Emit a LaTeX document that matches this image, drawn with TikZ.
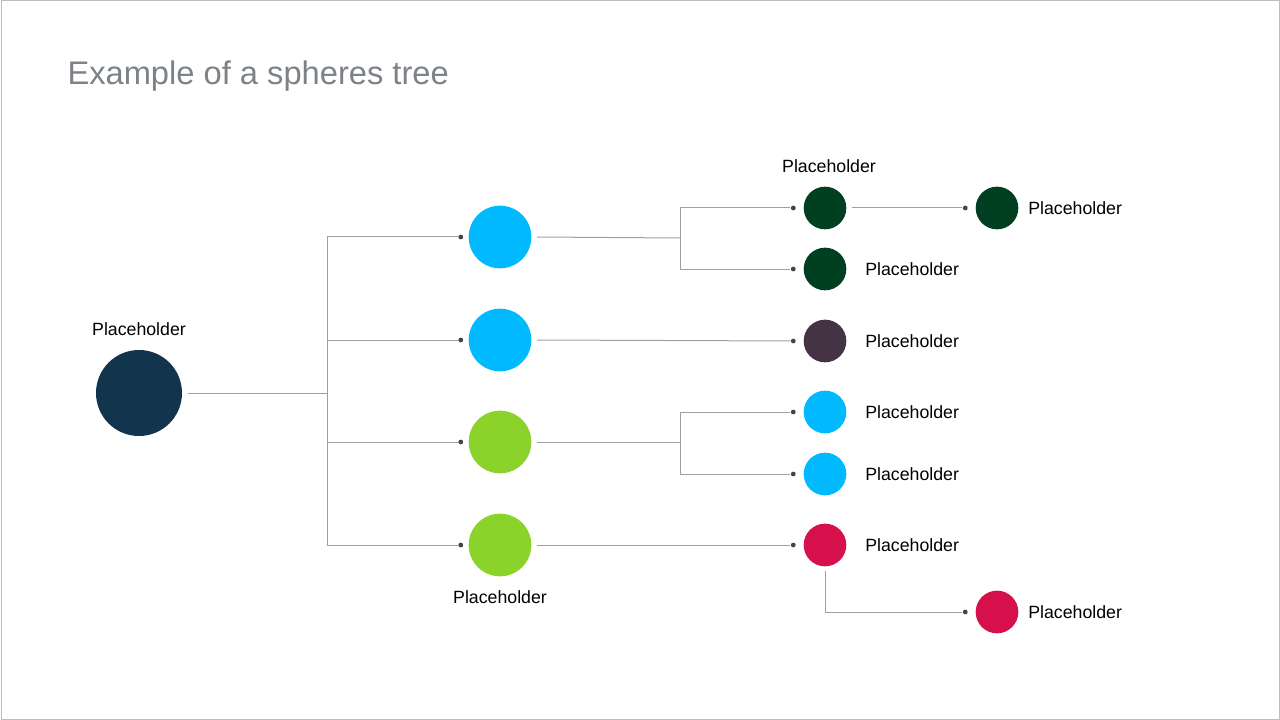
\documentclass[tikz,border=0pt]{standalone}
\usepackage{fontspec}
\setmainfont{Liberation Sans}
\usetikzlibrary{positioning}
\definecolor{navy}{RGB}{18,52,77}
\definecolor{sky}{RGB}{0,185,255}
\definecolor{lime}{RGB}{139,210,42}
\definecolor{forest}{RGB}{0,64,32}
\definecolor{plum}{RGB}{67,51,68}
\definecolor{crimson}{RGB}{213,16,74}
\definecolor{wire}{RGB}{160,160,160}
\definecolor{dotc}{RGB}{80,60,80}
\tikzset{every picture/.style={line width=0.75pt}}
\tikzset{
  ball/.style={circle,inner sep=0pt,minimum size=#1},
  link/.style={draw=wire},
  tip/.style={circle,fill=dotc,inner sep=0pt,minimum size=3.6pt},
  lbl/.style={font=\fontsize{13.3}{15}\selectfont,inner sep=0.75pt}
}
\begin{document}
\begin{tikzpicture}[x=0.75pt,y=0.75pt,yscale=-1,xscale=1]
\useasboundingbox (0,0) rectangle (1280,720);
\draw [draw={rgb,255:red,190;green,190;blue,190}] (1,1) rectangle (1279,719);

% title
\node [anchor=west,inner sep=0pt,text={rgb,255:red,125;green,130;blue,135},font=\fontsize{24.5}{28}\selectfont] (title) at (67,76) {Example of a spheres tree};

% spheres
\node [ball=64.5pt, fill=navy] (root) at (139,393) {};
\node [ball=47pt, fill=sky] (a) at (500,237) {};
\node [ball=47pt, fill=sky] (b) at (500,340) {};
\node [ball=47pt, fill=lime] (c) at (500,442) {};
\node [ball=47pt, fill=lime] (d) at (500,545) {};
\node [ball=32pt, fill=forest] (a1) at (825,208) {};
\node [ball=32pt, fill=forest] (a2) at (825,269) {};
\node [ball=32pt, fill=plum] (b1) at (825,341) {};
\node [ball=32pt, fill=sky] (c1) at (825,412) {};
\node [ball=32pt, fill=sky] (c2) at (825,474) {};
\node [ball=32pt, fill=crimson] (d1) at (825,545) {};
\node [ball=32pt, fill=forest] (a11) at (997,208) {};
\node [ball=32pt, fill=crimson] (d11) at (997,612) {};

% end dots
\node [tip, left=4.5 of a] (ta) {};
\node [tip, left=4.5 of b] (tb) {};
\node [tip, left=4.5 of c] (tc) {};
\node [tip, left=4.5 of d] (td) {};
\node [tip, left=7 of a1] (ta1) {};
\node [tip, left=7 of a2] (ta2) {};
\node [tip, left=7 of b1] (tb1) {};
\node [tip, left=7 of c1] (tc1) {};
\node [tip, left=7 of c2] (tc2) {};
\node [tip, left=7 of d1] (td1) {};
\node [tip, left=7 of a11] (ta11) {};
\node [tip, left=7 of d11] (td11) {};

% connectors
\coordinate (sp) at (327,393);
\coordinate (sa) at (680,238);
\coordinate (sc) at (680,442);
\draw [link] ([xshift=4]root.east) -- (sp);
\draw [link] (sp |- ta) -- (sp |- td);
\foreach \t in {ta,tb,tc,td} \draw [link] (sp |- \t) -- (\t);
\draw [link] ([xshift=4]a.east) -- (sa);
\draw [link] (sa |- ta1) -- (sa |- ta2);
\draw [link] (sa |- ta1) -- (ta1);
\draw [link] (sa |- ta2) -- (ta2);
\draw [link] ([xshift=4]b.east) -- (tb1);
\draw [link] ([xshift=4]c.east) -- (sc);
\draw [link] (sc |- tc1) -- (sc |- tc2);
\draw [link] (sc |- tc1) -- (tc1);
\draw [link] (sc |- tc2) -- (tc2);
\draw [link] ([xshift=4]d.east) -- (td1);
\draw [link] ([xshift=4]a1.east) -- (ta11);
\draw [link] ([yshift=3]d1.south) |- (td11);

% labels
\node [lbl, above=12 of root] (lroot) {Placeholder};
\node [lbl, above=12 of a1, xshift=3] (la1) {Placeholder};
\node [lbl, below=12 of d] (ld) {Placeholder};
\foreach \n in {a2,b1,c1,c2,d1} \node [lbl, right=17 of \n] (l\n) {Placeholder};
\foreach \n in {a11,d11} \node [lbl, right=8 of \n] (l\n) {Placeholder};
\end{tikzpicture}
\end{document}
